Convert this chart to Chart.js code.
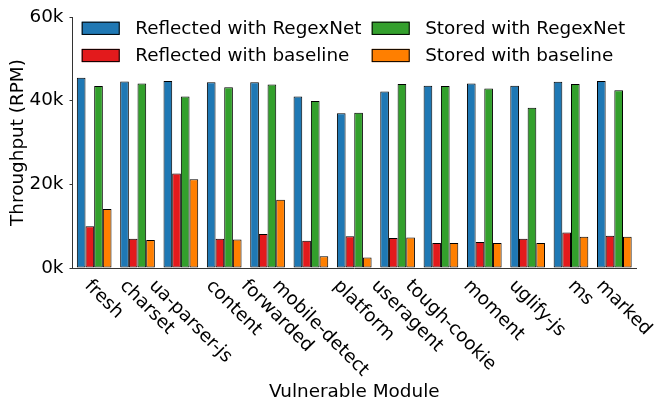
<!DOCTYPE html>
<html>
<head>
<meta charset="utf-8">
<script src="https://cdn.jsdelivr.net/npm/chart.js@4/dist/chart.umd.min.js"></script>
<style>
  html, body { margin: 0; padding: 0; background: #fff; }
  #wrap { width: 654px; height: 407px; }
</style>
</head>
<body>
<div id="wrap"><canvas id="myChart" width="654" height="407"></canvas></div>
<script>
var modules = ['fresh', 'charset', 'ua-parser-js', 'content', 'forwarded', 'mobile-detect',
  'platform', 'useragent', 'tough-cookie', 'moment', 'uglify-js', 'ms', 'marked'];

// throughput in RPM
var reflectedRegexNet = [45500, 44600, 44700, 44400, 44400, 41000, 37000, 42200, 43600, 44100, 43600, 44500, 44700];
var reflectedBaseline = [10000, 7000, 22600, 7000, 8100, 6500, 7600, 7200, 6000, 6200, 7000, 8500, 7700];
var storedRegexNet    = [43500, 44100, 41000, 43200, 43900, 39900, 37100, 44000, 43500, 42900, 38300, 44000, 42500];
var storedBaseline    = [14100, 6700, 21200, 6800, 16300, 2800, 2500, 7300, 6000, 6000, 6000, 7500, 7500];

var yTicks = [0, 20000, 40000, 60000];

var FONT = 'DejaVu Sans';
var FS = 18.4;

// x tick labels, rotated 45deg clockwise (hanging down to the right)
var slantLabels = {
  id: 'slantLabels',
  afterDraw: function(chart) {
    var ctx = chart.ctx;
    var xs = chart.scales.x;
    var top = chart.chartArea.bottom + 15;
    ctx.save();
    ctx.font = FS + 'px "' + FONT + '"';
    ctx.fillStyle = '#000';
    ctx.textAlign = 'center';
    ctx.textBaseline = 'middle';
    modules.forEach(function(name, i) {
      var w = ctx.measureText(name).width;
      var cx = xs.getPixelForValue(i) + 9.5;
      var cy = top + w / 2 * Math.SQRT1_2;
      ctx.save();
      ctx.translate(cx, cy);
      ctx.rotate(Math.PI / 4);
      ctx.fillText(name, 0, 0);
      ctx.restore();
    });
    ctx.restore();
  }
};

// two-column legend, matplotlib style
var twoColLegend = {
  id: 'twoColLegend',
  afterDraw: function(chart) {
    var ctx = chart.ctx;
    var a = chart.chartArea;
    var ds = chart.data.datasets;
    var order = [0, 1, 2, 3];
    ctx.save();
    ctx.font = FS + 'px "' + FONT + '"';
    ctx.textBaseline = 'middle';
    ctx.textAlign = 'left';
    order.forEach(function(k) {
      var col = Math.floor(k / 2), row = k % 2;
      var bx = a.left + 9.2 + col * 290;
      var by = 28.3 + row * 27.2;
      ctx.fillStyle = ds[k].backgroundColor;
      ctx.fillRect(bx, by - 6.6, 38, 13.2);
      ctx.strokeStyle = '#000';
      ctx.lineWidth = 1;
      ctx.strokeRect(bx + 0.5, by - 6.6 + 0.5, 37, 12.2);
      ctx.fillStyle = '#000';
      ctx.fillText(ds[k].label, bx + 53.5, by + 1);
    });
    ctx.restore();
  }
};

var ctx = document.getElementById('myChart').getContext('2d');
var myChart = new Chart(ctx, {
  type: 'bar',
  data: {
    labels: modules,
    datasets: [{
        label: 'Reflected with RegexNet',
        data: reflectedRegexNet,
        backgroundColor: '#1f78b4',
      }, {
        label: 'Reflected with baseline',
        data: reflectedBaseline,
        backgroundColor: '#e31a1c',
      }, {
        label: 'Stored with RegexNet',
        data: storedRegexNet,
        backgroundColor: '#33a02c',
      }, {
        label: 'Stored with baseline',
        data: storedBaseline,
        backgroundColor: '#ff7f00',
      }
    ]
  },
  options: {
    responsive: false,
    animation: false,
    devicePixelRatio: 1,
    layout: { padding: { top: 16, right: 18, left: 0, bottom: 0 } },
    datasets: {
      bar: {
        borderColor: '#000',
        borderWidth: 1,
        borderSkipped: false,
        categoryPercentage: 0.8,
        barPercentage: 1.0
      }
    },
    plugins: {
      legend: { display: false },
      tooltip: { enabled: false }
    },
    scales: {
      x: {
        grid: { display: false },
        border: { display: true, color: '#333', width: 1 },
        ticks: { display: false },
        title: {
          display: true,
          text: 'Vulnerable Module',
          color: '#000',
          font: { family: FONT, size: FS },
          padding: { top: 0, bottom: 4.2 }
        },
        afterFit: function(s) { s.height = 139; }
      },
      y: {
        min: 0,
        max: 60000,
        afterBuildTicks: function(s) { s.ticks = yTicks.map(function(v) { return { value: v }; }); },
        grid: { display: true, drawOnChartArea: false, drawTicks: true, tickLength: 3, color: '#333' },
        border: { display: true, color: '#333', width: 1 },
        ticks: {
          color: '#000',
          padding: 6,
          font: { family: FONT, size: FS },
          callback: function(v) { return (v / 1000) + 'k'; }
        },
        title: {
          display: true,
          text: 'Throughput (RPM)',
          color: '#000',
          font: { family: FONT, size: FS },
          padding: { top: 7.2, bottom: 0 }
        },
        afterFit: function(s) { s.width = 72.5; }
      }
    }
  },
  plugins: [slantLabels, twoColLegend]
});
</script>
</body>
</html>
